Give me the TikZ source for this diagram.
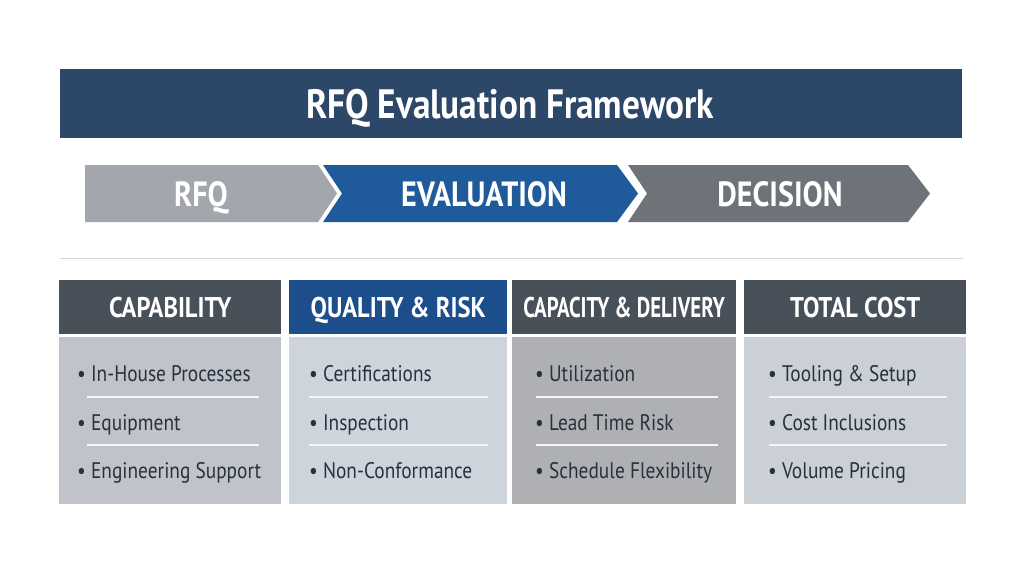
\documentclass[tikz,border=0pt]{standalone}
\usepackage{fontspec}
\setmainfont{PT Sans}
\newfontfamily\cond[FakeStretch=0.86]{PT Sans}
\definecolor{navy}{HTML}{2C4767}
\definecolor{chevA}{HTML}{A3A6AD}
\definecolor{chevB}{HTML}{1F5A9B}
\definecolor{chevC}{HTML}{6E7279}
\definecolor{hdrgray}{HTML}{48505A}
\definecolor{hdrblue}{HTML}{1B4E8A}
\definecolor{bodyA}{HTML}{C0C3C9}
\definecolor{bodyB}{HTML}{CED4DC}
\definecolor{bodyC}{HTML}{AFB0B4}
\definecolor{bodyD}{HTML}{CBCFD6}
\definecolor{itemtxt}{HTML}{27313D}
\definecolor{rulegray}{HTML}{D3D6DA}
\tikzset{
  titlebox/.style={fill=navy, minimum width=902pt, minimum height=69pt, inner sep=0pt, anchor=north west},
  chevtext/.style={text=white, font=\cond\bfseries\fontsize{35}{37}\selectfont, inner sep=0pt, text height=25pt, text depth=0pt},
  hdrbox/.style={minimum width=222pt, minimum height=54pt, inner sep=0pt, anchor=north west, text=white, font=\cond\bfseries\fontsize{28.5}{30}\selectfont, text height=20pt, text depth=0pt},
  bodybox/.style={minimum width=222pt, minimum height=167pt, inner sep=0pt, anchor=north west},
  item/.style={anchor=west, inner sep=0pt, text=itemtxt, font=\cond\fontsize{22.5}{24}\selectfont, text height=16pt, text depth=0pt},
  sepline/.style={draw=white!92!gray, line width=1.2pt}
}
\begin{document}
\begin{tikzpicture}[x=1pt,y=-1pt]
\fill[white] (0,0) rectangle (1024,576);
\path[use as bounding box] (0,0) rectangle (1024,576);

% title
\node[titlebox] (title) at (60,69) {};
\node[text=white, inner sep=0pt, text height=29pt, text depth=0pt, font=\cond\bfseries\fontsize{41}{43}\selectfont] (titletxt) at (510,104) {RFQ Evaluation Framework};

% chevrons
\fill[chevA] (85,165) -- (318,165) -- (337,193.5) -- (318,222) -- (85,222) -- cycle;
\fill[chevB] (323,165) -- (617,165) -- (638,193.5) -- (617,222) -- (323,222) -- (342,193.5) -- cycle;
\fill[chevC] (628,165) -- (908,165) -- (930,193.5) -- (908,222) -- (628,222) -- (647,193.5) -- cycle;
\node[chevtext] (c1) at (201,194) {RFQ};
\node[chevtext] (c2) at (484,194) {EVALUATION};
\node[chevtext] (c3) at (780,194) {DECISION};

% separator
\coordinate (sl) at (60,258);
\coordinate (sr) at (963,258);
\draw[rulegray, line width=1pt] (sl) -- (sr);

% columns
\node[hdrbox, fill=hdrgray] (h1) at (59,280) {CAPABILITY};
\node[hdrbox, fill=hdrblue, minimum width=218pt] (h2) at (289,280) {QUALITY \& RISK};
\node[hdrbox, fill=hdrgray, minimum width=224pt] (h3) at (512,280) {\scalebox{0.85}[1]{CAPACITY \& DELIVERY}};
\node[hdrbox, fill=hdrgray] (h4) at (744,280) {TOTAL COST};

\node[bodybox, fill=bodyA] (b1) at (59,337) {};
\node[bodybox, fill=bodyB, minimum width=218pt] (b2) at (289,337) {};
\node[bodybox, fill=bodyC, minimum width=224pt] (b3) at (512,337) {};
\node[bodybox, fill=bodyD] (b4) at (744,337) {};

% separators inside bodies
\draw[sepline] (87,397) -- (259,397);
\draw[sepline] (87,445) -- (259,445);
\draw[sepline] (309,397) -- (488,397);
\draw[sepline] (309,445) -- (488,445);
\draw[sepline] (536,397) -- (718,397);
\draw[sepline] (536,445) -- (718,445);
\draw[sepline] (769,397) -- (947,397);
\draw[sepline] (769,445) -- (947,445);

% items
\node[item] (i11) at (77,373) {\textbullet\ In-House Processes};
\node[item] (i12) at (77,422) {\textbullet\ Equipment};
\node[item] (i13) at (77,470) {\textbullet\ Engineering Support};

\node[item] (i21) at (309,373) {\textbullet\ Certifications};
\node[item] (i22) at (309,422) {\textbullet\ Inspection};
\node[item] (i23) at (309,470) {\textbullet\ Non-Conformance};

\node[item] (i31) at (535,373) {\textbullet\ Utilization};
\node[item] (i32) at (535,422) {\textbullet\ Lead Time Risk};
\node[item] (i33) at (535,470) {\textbullet\ Schedule Flexibility};

\node[item] (i41) at (768,373) {\textbullet\ Tooling \& Setup};
\node[item] (i42) at (768,422) {\textbullet\ Cost Inclusions};
\node[item] (i43) at (768,470) {\textbullet\ Volume Pricing};
\end{tikzpicture}
\end{document}
